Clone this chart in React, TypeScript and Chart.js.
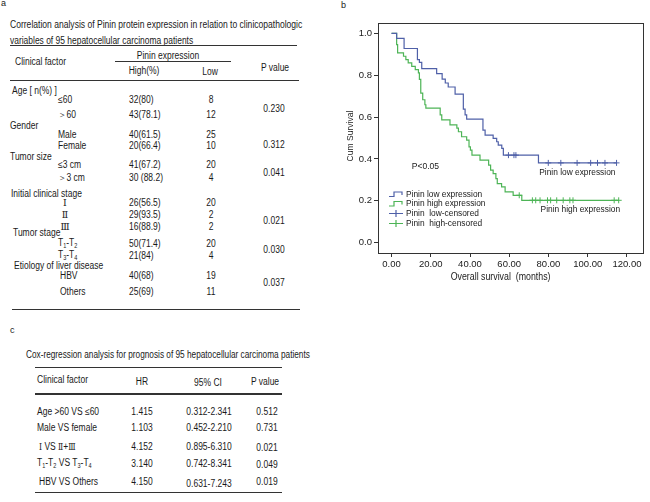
import React, { useEffect, useRef } from "react";
import { Chart, registerables } from "chart.js";

Chart.register(...registerables);

// ---------------- Panel b: Kaplan–Meier data ----------------
const lowTimes = [0, 2.6, 6.4, 13.2, 14.2, 15.4, 23.0, 25.8, 27.4, 28.9, 32.4, 36.6, 37.5, 38.3, 46.6, 47.7, 51.8, 53.6, 54.4, 56.2, 57.0, 74.9];
const lowSurv = [1.0, 0.976, 0.928, 0.875, 0.862, 0.832, 0.808, 0.782, 0.763, 0.744, 0.71, 0.638, 0.611, 0.59, 0.538, 0.514, 0.498, 0.482, 0.466, 0.45, 0.418, 0.381];
const lowCensorTimes = [59.6, 62.4, 63.4, 79.9, 86.3, 94.6, 101.5, 105.0, 108.8, 114.7];
const lowLastTime = 114.7;

const highTimes = [0, 2.6, 3.1, 6.1, 7.3, 8.5, 10.3, 12.1, 13.7, 14.2, 14.9, 15.9, 17.0, 17.5, 24.8, 25.6, 29.8, 33.3, 34.1, 35.7, 38.3, 39.5, 40.2, 41.0, 45.1, 49.5, 50.5, 51.8, 53.2, 53.9, 56.1, 57.9, 62.0, 66.4];
const highSurv = [1.0, 0.947, 0.907, 0.891, 0.875, 0.859, 0.843, 0.827, 0.811, 0.78, 0.715, 0.683, 0.659, 0.643, 0.611, 0.587, 0.563, 0.547, 0.53, 0.506, 0.49, 0.458, 0.442, 0.418, 0.394, 0.37, 0.346, 0.33, 0.306, 0.282, 0.266, 0.242, 0.226, 0.202];
const highCensorTimes = [65.1, 71.8, 73.5, 75.7, 79.5, 81.1, 84.2, 87.5, 90.9, 92.5, 113.5, 115.8];
const highLastTime = 115.8;

const xTickValues = [0, 20, 40, 60, 80, 100, 120];
const yTickValues = [0, 0.2, 0.4, 0.6, 0.8, 1.0];
const legendLabels = ["Pinin low expression", "Pinin high expression", "Pinin  low-censored", "Pinin  high-censored"];
const xTitle = "Overall survival  (months)";
const yTitle = "Cum Survival";
const pText = "P<0.05";
const curveLabels = ["Pinin low expression", "Pinin high expression"];

// ---------------- Panel a: correlation table ----------------
const titleA = ["Correlation analysis of Pinin protein expression in relation to clinicopathologic", "variables of 95 hepatocellular carcinoma patients"];
const factorGroups = ["Age [ n(%) ]", "Gender", "Tumor size", "Initial clinical stage", "Tumor stage", "Etiology of liver disease"];
const subLabels = [["≤60", "＞60"], ["Male", "Female"], ["≤3 cm", "＞3 cm"], ["Ⅰ", "Ⅱ", "Ⅲ"], ["T1-T2", "T3-T4"], ["HBV", "Others"]];
const highValues = [["32(80)", "43(78.1)"], ["40(61.5)", "20(66.4)"], ["41(67.2)", "30 (88.2)"], ["26(56.5)", "29(93.5)", "16(88.9)"], ["50(71.4)", "21(84)"], ["40(68)", "25(69)"]];
const lowValues = [["8", "12"], ["25", "10"], ["20", "4"], ["20", "2", "2"], ["20", "4"], ["19", "11"]];
const pValuesA = ["0.230", "0.312", "0.041", "0.021", "0.030", "0.037"];

// ---------------- Panel c: Cox regression table ----------------
const titleC = "Cox-regression analysis for prognosis of 95 hepatocellular carcinoma patients";
const coxFactors = ["Age >60 VS ≤60", "Male VS female", "Ⅰ VS Ⅱ+Ⅲ", "T1-T2 VS T3-T4", "HBV VS Others"];
const coxHR = ["1.415", "1.103", "4.152", "3.140", "4.150"];
const coxCI = ["0.312-2.341", "0.452-2.210", "0.895-6.310", "0.742-8.341", "0.631-7.243"];
const coxP = ["0.512", "0.731", "0.021", "0.049", "0.019"];

const BLUE = "#4f60a8";
const GREEN = "#4db456";
const FONT = "'Liberation Sans', Arial, Helvetica, sans-serif";
const SERIF = "'DejaVu Serif', 'Liberation Serif', serif";
const TXT = "#1a1a1a";
const FS = 10;
const KX = 0.85;

function survAt(times: number[], surv: number[], t: number) {
  let s = surv[0];
  for (let i = 0; i < times.length; i++) if (times[i] <= t) s = surv[i];
  return s;
}
function stepPoints(times: number[], surv: number[], end: number) {
  const pts = times.map((t, i) => ({ x: t, y: surv[i] }));
  pts.push({ x: end, y: surv[surv.length - 1] });
  return pts;
}

function drawText(ctx: CanvasRenderingContext2D, text: string, x: number, y: number, size: number, align: CanvasTextAlign, k: number, rotate = 0) {
  ctx.save();
  ctx.translate(x, y);
  if (rotate) ctx.rotate(rotate);
  ctx.scale(k, 1);
  ctx.font = `${size}px ${FONT}`;
  ctx.fillStyle = TXT;
  ctx.textAlign = align;
  ctx.textBaseline = "middle";
  ctx.fillText(text, 0, 0);
  ctx.restore();
}

const overlayPlugin = {
  id: "kmOverlay",
  afterDraw(chart: any) {
    const { ctx, chartArea: a, scales } = chart;
    const xs = scales.x;
    const ys = scales.y;
    ctx.save();
    ctx.strokeStyle = "#333";
    ctx.lineWidth = 1;
    ctx.strokeRect(Math.round(a.left) + 0.5, Math.round(a.top) + 0.5, Math.round(a.right - a.left) - 1, Math.round(a.bottom - a.top));
    drawText(ctx, xTitle, xs.getPixelForValue(55.6), a.bottom + 24, 10, "center", 0.88);
    drawText(ctx, yTitle, a.left - 27.5, (a.top + a.bottom) / 2 - 2, 9.5, "center", 0.9, -Math.PI / 2);
    drawText(ctx, pText, xs.getPixelForValue(10.3), ys.getPixelForValue(0.365), 9.5, "left", 0.9);
    drawText(ctx, curveLabels[0], xs.getPixelForValue(75.3), ys.getPixelForValue(0.337), 9.5, "left", 0.88);
    drawText(ctx, curveLabels[1], xs.getPixelForValue(76.0), ys.getPixelForValue(0.159), 9.5, "left", 0.88);
    const gx = a.left + 11;
    const rows = [a.bottom - 59, a.bottom - 49.5, a.bottom - 39.5, a.bottom - 29.5];
    const cols = [BLUE, GREEN, BLUE, GREEN];
    rows.forEach((ry, i) => {
      ctx.strokeStyle = cols[i];
      ctx.lineWidth = 1.2;
      ctx.beginPath();
      if (i < 2) {
        ctx.moveTo(gx, ry + 2.5);
        ctx.lineTo(gx + 5, ry + 2.5);
        ctx.lineTo(gx + 5, ry - 2);
        ctx.lineTo(gx + 13, ry - 2);
        ctx.lineTo(gx + 13, ry + 1);
      } else {
        ctx.moveTo(gx, ry);
        ctx.lineTo(gx + 14, ry);
        ctx.moveTo(gx + 7, ry - 3.5);
        ctx.lineTo(gx + 7, ry + 3.5);
      }
      ctx.stroke();
      drawText(ctx, legendLabels[i], gx + 17, ry, 9.5, "left", 0.88);
    });
    ctx.restore();
  },
};

function KMChart() {
  const ref = useRef<HTMLCanvasElement>(null);
  useEffect(() => {
    const canvas = ref.current;
    if (!canvas) return;
    Chart.defaults.font.family = FONT;
    const lowPts = stepPoints(lowTimes, lowSurv, lowLastTime);
    const highPts = stepPoints(highTimes, highSurv, highLastTime);
    const lowCens = lowCensorTimes.map((t) => ({ x: t, y: survAt(lowTimes, lowSurv, t) }));
    const highCens = highCensorTimes.map((t) => ({ x: t, y: survAt(highTimes, highSurv, t) }));
    const tickCommon = { color: TXT, padding: 2, maxRotation: 0, autoSkip: false };
    const chart = new Chart(canvas, {
      type: "line",
      data: {
        datasets: [
          { label: legendLabels[0], data: lowPts, borderColor: BLUE, borderWidth: 1.2, stepped: "before", pointRadius: 0, fill: false },
          { label: legendLabels[1], data: highPts, borderColor: GREEN, borderWidth: 1.2, stepped: "before", pointRadius: 0, fill: false },
          { label: legendLabels[2], data: lowCens, showLine: false, pointStyle: "cross", pointRadius: 3, borderColor: BLUE, borderWidth: 1 },
          { label: legendLabels[3], data: highCens, showLine: false, pointStyle: "cross", pointRadius: 3, borderColor: GREEN, borderWidth: 1 },
        ] as any,
      },
      options: {
        animation: false,
        responsive: true,
        maintainAspectRatio: false,
        layout: { padding: { top: 23, right: 6, left: 0, bottom: 0 } },
        plugins: { legend: { display: false }, tooltip: { enabled: false } },
        scales: {
          x: {
            type: "linear",
            min: -6.9,
            max: 128.7,
            afterBuildTicks: (s: any) => { s.ticks = xTickValues.map((v) => ({ value: v })); },
            afterFit: (s: any) => { s.height = 47; },
            grid: { drawOnChartArea: false, drawTicks: true, tickLength: 4, color: "#333" },
            border: { display: false },
            ticks: { ...tickCommon, font: { size: 9.5 }, callback: (v: any) => Number(v).toFixed(2) },
          },
          y: {
            type: "linear",
            min: -0.05,
            max: 1.05,
            afterBuildTicks: (s: any) => { s.ticks = yTickValues.map((v) => ({ value: v })); },
            afterFit: (s: any) => { s.width = 48; },
            grid: { drawOnChartArea: false, drawTicks: true, tickLength: 4, color: "#333" },
            border: { display: false },
            ticks: { ...tickCommon, font: { size: 9.5 }, callback: (v: any) => Number(v).toFixed(1) },
          },
        },
      } as any,
      plugins: [overlayPlugin],
    });
    return () => chart.destroy();
  }, []);
  return <canvas ref={ref} />;
}

// ---------------- HTML helpers ----------------
function Txt(props: { x: number; y: number; children: any; align?: "left" | "center"; size?: number; k?: number; serif?: boolean }) {
  const { x, y, children, align = "left", size = FS, k = KX, serif = false } = props;
  const transform = align === "center" ? `translate(-50%,-50%) scaleX(${k})` : `translateY(-50%) scaleX(${k})`;
  return (
    <div
      style={{
        position: "absolute",
        left: x,
        top: y,
        whiteSpace: "pre",
        fontSize: size,
        lineHeight: 1,
        transform,
        transformOrigin: align === "center" ? "50% 50%" : "0 50%",
        color: TXT,
        fontFamily: serif ? SERIF : undefined,
      }}
    >
      {children}
    </div>
  );
}
function HLine(props: { x1: number; x2: number; y: number; h?: number; c?: string }) {
  const { x1, x2, y, h = 1, c = "#333" } = props;
  return <div style={{ position: "absolute", left: x1, top: y - h / 2, width: x2 - x1, height: h, background: c }} />;
}
const sub = (d: string) => <sub style={{ fontSize: 6.5, verticalAlign: "-2px" }}>{d}</sub>;
const roman = (r: string) => <span style={{ fontFamily: SERIF, fontSize: 9 }}>{r}</span>;
function renderLabel(label: string) {
  if (label === "T1-T2 VS T3-T4") return <span>T{sub("1")}-T{sub("2")} VS T{sub("3")}-T{sub("4")}</span>;
  if (label === "Ⅰ VS Ⅱ+Ⅲ") return <span>{roman("Ⅰ")} VS {roman("Ⅱ")}+{roman("Ⅲ")}</span>;
  const m = label.match(/^T(\d)-T(\d)$/);
  if (m) return <span>T{sub(m[1])}-T{sub(m[2])}</span>;
  return label;
}

// layout positions (pixels)
const groupY = [90.7, 125.7, 157, 194, 233.3, 266];
const groupX = [12, 10, 10, 11, 13, 14];
const subY = [[100, 115], [135, 145.5], [164.5, 178], [203.3, 214.5, 226.5], [243.7, 255.5], [276, 291.5]];
const pY = [109, 144.7, 173.3, 220.7, 250, 282.7];
const coxY = [411.7, 427.7, 446.7, 464.3, 482.3];

function PanelA() {
  const items: any[] = [];
  factorGroups.forEach((g, gi) => {
    items.push(<Txt key={`g${gi}`} x={groupX[gi]} y={groupY[gi]}>{g}</Txt>);
    subLabels[gi].forEach((s, si) => {
      const isRoman = gi === 3;
      items.push(
        isRoman ? (
          <Txt key={`s${gi}${si}`} x={65} y={subY[gi][si]} align="center" serif size={9.5} k={1}>{s}</Txt>
        ) : (
          <Txt key={`s${gi}${si}`} x={gi === 5 ? 60 : 58} y={subY[gi][si]}>{renderLabel(s)}</Txt>
        )
      );
      items.push(<Txt key={`h${gi}${si}`} x={129} y={subY[gi][si]}>{highValues[gi][si]}</Txt>);
      items.push(<Txt key={`l${gi}${si}`} x={211} y={subY[gi][si]} align="center">{lowValues[gi][si]}</Txt>);
    });
    items.push(<Txt key={`p${gi}`} x={274} y={pY[gi]} align="center">{pValuesA[gi]}</Txt>);
  });
  return (
    <>
      <Txt x={1} y={3} size={9} k={1}>a</Txt>
      <Txt x={10} y={25} k={0.855}>{titleA[0]}</Txt>
      <Txt x={10} y={40.7} k={0.845}>{titleA[1]}</Txt>
      <HLine x1={10} x2={297} y={45.7} />
      <Txt x={15} y={61.5}>Clinical factor</Txt>
      <Txt x={167.5} y={56} align="center">Pinin expression</Txt>
      <HLine x1={115} x2={231} y={61.7} />
      <Txt x={143.5} y={71} align="center">High(%)</Txt>
      <Txt x={210} y={71.5} align="center">Low</Txt>
      <Txt x={275} y={68.3} align="center">P value</Txt>
      <HLine x1={10} x2={299} y={80} />
      {items}
      <HLine x1={12} x2={300} y={309.3} />
    </>
  );
}

function PanelC() {
  return (
    <>
      <Txt x={10} y={330} size={9} k={1}>c</Txt>
      <Txt x={26} y={355} k={0.825}>{titleC}</Txt>
      <HLine x1={35} x2={282} y={367.7} h={1.3} />
      <Txt x={37.3} y={380}>Clinical factor</Txt>
      <Txt x={141.7} y={381.7} align="center">HR</Txt>
      <Txt x={208.3} y={382.7} align="center">95% CI</Txt>
      <Txt x={265} y={382} align="center">P value</Txt>
      <HLine x1={35} x2={282} y={394} h={1.3} />
      {coxFactors.map((f, i) => (
        <React.Fragment key={i}>
          <Txt x={i === 2 || i === 4 ? 39.3 : 37.3} y={coxY[i]}>{renderLabel(f)}</Txt>
          <Txt x={141.7} y={coxY[i]} align="center">{coxHR[i]}</Txt>
          <Txt x={208.8} y={coxY[i] + (i === 4 ? 1.5 : 0)} align="center">{coxCI[i]}</Txt>
          <Txt x={266.5} y={coxY[i] + (i === 2 || i === 3 ? 1 : 0)} align="center">{coxP[i]}</Txt>
        </React.Fragment>
      ))}
      <HLine x1={35} x2={282} y={492.7} h={1.3} />
    </>
  );
}

export default function App() {
  return (
    <div
      style={{
        position: "absolute",
        left: 0,
        top: 0,
        width: 650,
        height: 502,
        background: "#fff",
        fontFamily: FONT,
        overflow: "hidden",
      }}
    >
      <PanelA />
      <PanelC />
      <Txt x={341} y={5} size={9} k={1}>b</Txt>
      <div style={{ position: "absolute", left: 330, top: 0, width: 320, height: 300 }}>
        <KMChart />
      </div>
    </div>
  );
}
